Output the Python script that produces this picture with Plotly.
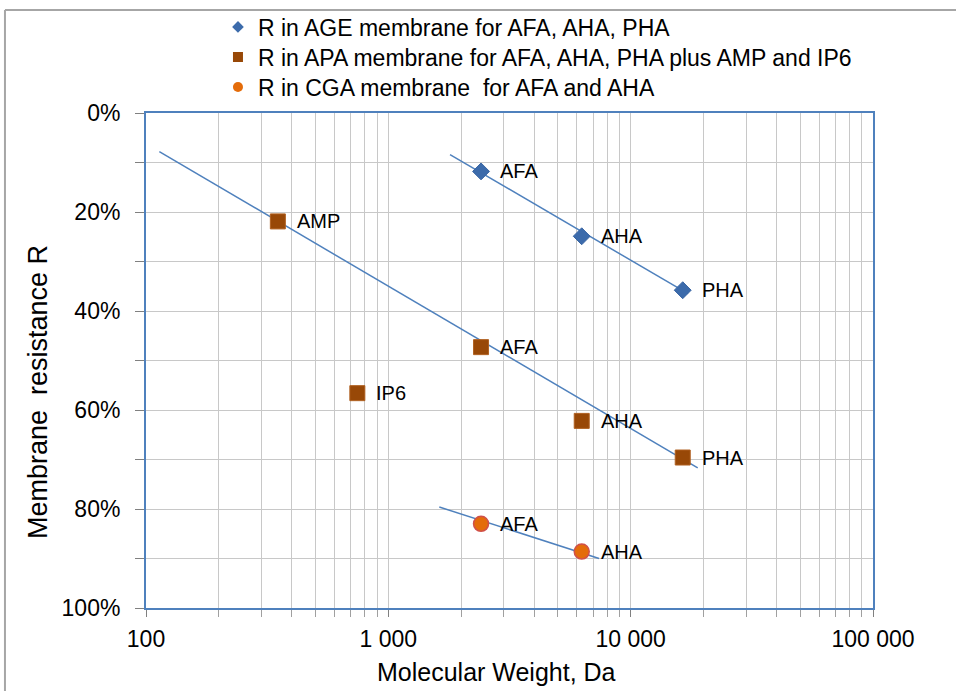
import math
import plotly.graph_objects as go

# ---- data ----
age_names = ["AFA", "AHA", "PHA"]
age_mw = [2413, 6281, 16400]
age_r = [11.8, 24.9, 35.8]

apa_names = ["AMP", "AFA", "IP6", "AHA", "PHA"]
apa_mw = [350, 2413, 745, 6281, 16400]
apa_r = [21.9, 47.3, 56.6, 62.2, 69.6]

cga_names = ["AFA", "AHA"]
cga_mw = [2413, 6281]
cga_r = [83.0, 88.6]

# trendline end points (log fits drawn in the reference)
age_trend_mw = [1797, 17240]
age_trend_r = [8.4, 36.5]
apa_trend_mw = [113.5, 18910]
apa_trend_r = [7.8, 71.7]
cga_trend_mw = [1623, 7405]
cga_trend_r = [79.6, 90.0]

x_tickvals = [100, 1000, 10000, 100000]
x_ticktext = ["100", "1 000", "10 000", "100 000"]
y_tickvals = [0, 20, 40, 60, 80, 100]
y_ticktext = ["0%", "20%", "40%", "60%", "80%", "100%"]

legend_names = [
    "R in AGE membrane for AFA, AHA, PHA",
    "R in APA membrane for AFA, AHA, PHA plus AMP and IP6",
    "R in CGA membrane\u00a0 for AFA and AHA",
]
x_title = "Molecular Weight, Da"
y_title = "Membrane\u00a0 resistance R"

FONT = "Liberation Sans, Arial, sans-serif"
BLUE_LINE = "#4F81BD"
DIAMOND = "#3C6BAB"
BROWN = "#984807"
ORANGE = "#E46C0A"

fig = go.Figure()

# trendlines
for tx, ty in [(age_trend_mw, age_trend_r), (apa_trend_mw, apa_trend_r), (cga_trend_mw, cga_trend_r)]:
    fig.add_trace(go.Scatter(x=tx, y=ty, mode="lines",
                             line=dict(color=BLUE_LINE, width=1.5),
                             showlegend=False, hoverinfo="skip"))

# data markers
fig.add_trace(go.Scatter(x=age_mw, y=age_r, mode="markers", showlegend=False,
                         marker=dict(symbol="diamond", size=13, color=DIAMOND,
                                     line=dict(color="#3A66A4", width=1))))
fig.add_trace(go.Scatter(x=apa_mw, y=apa_r, mode="markers", showlegend=False,
                         marker=dict(symbol="square", size=15, color=BROWN,
                                     line=dict(color="#B06020", width=1))))
fig.add_trace(go.Scatter(x=cga_mw, y=cga_r, mode="markers", showlegend=False,
                         marker=dict(symbol="circle", size=15, color=ORANGE,
                                     line=dict(color="#D0504A", width=1.5))))

# legend-only entries (one legend per row, smaller symbols as in the reference)
legend_ids = ["legend", "legend2", "legend3"]
for name, sym, col, lid in zip(legend_names, ["diamond", "square", "circle"],
                               [DIAMOND, BROWN, ORANGE], legend_ids):
    fig.add_trace(go.Scatter(x=[None], y=[None], mode="markers", name=name, legend=lid,
                             marker=dict(symbol=sym, size=10 if sym != "diamond" else 9, color=col)))

# data labels
annotations = []
for names, xs, ys in [(age_names, age_mw, age_r), (apa_names, apa_mw, apa_r), (cga_names, cga_mw, cga_r)]:
    for n, xv, yv in zip(names, xs, ys):
        annotations.append(dict(x=math.log10(xv), y=yv, xref="x", yref="y",
                                text=n, showarrow=False, xanchor="left", yanchor="middle",
                                xshift=17, font=dict(family=FONT, size=20, color="black")))

# axis titles (placed as in the reference, slightly off-centre)
annotations.append(dict(x=(496 - 146) / 727, y=-(672 - 608) / 495, xref="paper", yref="paper",
                        text=x_title, showarrow=False, xanchor="center", yanchor="middle",
                        font=dict(family=FONT, size=25, color="black")))
annotations.append(dict(x=-(146 - 38) / 727, y=1 - (392 - 113) / 495, xref="paper", yref="paper",
                        text=y_title, showarrow=False, xanchor="center", yanchor="middle",
                        textangle=-90, font=dict(family=FONT, size=27, color="black")))

grid_col = "#C8C8C8"
minor_x = [m * d for d in (100, 1000, 10000) for m in range(2, 10)]


def legend_box(yc):
    return dict(x=0.099, y=yc, xanchor="left", yanchor="middle",
                font=dict(family=FONT, size=23, color="black"),
                bgcolor="rgba(0,0,0,0)", itemwidth=30)


fig.update_layout(
    width=956, height=691,
    margin=dict(l=146, r=83, t=113, b=83, autoexpand=False),
    paper_bgcolor="white", plot_bgcolor="white",
    font=dict(family=FONT, color="black"),
    annotations=annotations,
    legend=legend_box(1.1737),
    legend2=legend_box(1.1131),
    legend3=legend_box(1.0525),
    xaxis=dict(type="log", range=[2, 5], tickvals=x_tickvals, ticktext=x_ticktext,
               tickfont=dict(size=23), showgrid=True, gridcolor=grid_col, gridwidth=1,
               showline=True, linecolor=BLUE_LINE, linewidth=2, mirror=True,
               ticks="outside", ticklen=7, tickcolor="#808080", ticklabelstandoff=2,
               minor=dict(tickmode="array", tickvals=minor_x, showgrid=True, gridcolor=grid_col,
                          gridwidth=1, ticks="outside", ticklen=7, tickcolor="#A0A0A0"),
               zeroline=False, automargin=False),
    yaxis=dict(range=[100, 0], tickvals=y_tickvals, ticktext=y_ticktext,
               tickfont=dict(size=23), showgrid=True, gridcolor=grid_col, gridwidth=1,
               showline=True, linecolor=BLUE_LINE, linewidth=2, mirror=True,
               ticks="outside", ticklen=9, tickcolor="#808080", ticklabelstandoff=10,
               minor=dict(dtick=10, tick0=0, showgrid=True, gridcolor=grid_col, gridwidth=1,
                          ticks="outside", ticklen=9, tickcolor="#808080"),
               zeroline=False, automargin=False),
    shapes=[
        dict(type="line", xref="paper", yref="paper", x0=-0.194, x1=1.2, y0=1.208, y1=1.208,
             line=dict(color="#A6A6A6", width=2)),
        dict(type="line", xref="paper", yref="paper", x0=-0.194, x1=-0.194, y0=1.208, y1=-0.2,
             line=dict(color="#A6A6A6", width=2)),
    ],
)

fig.write_html("out.html")
